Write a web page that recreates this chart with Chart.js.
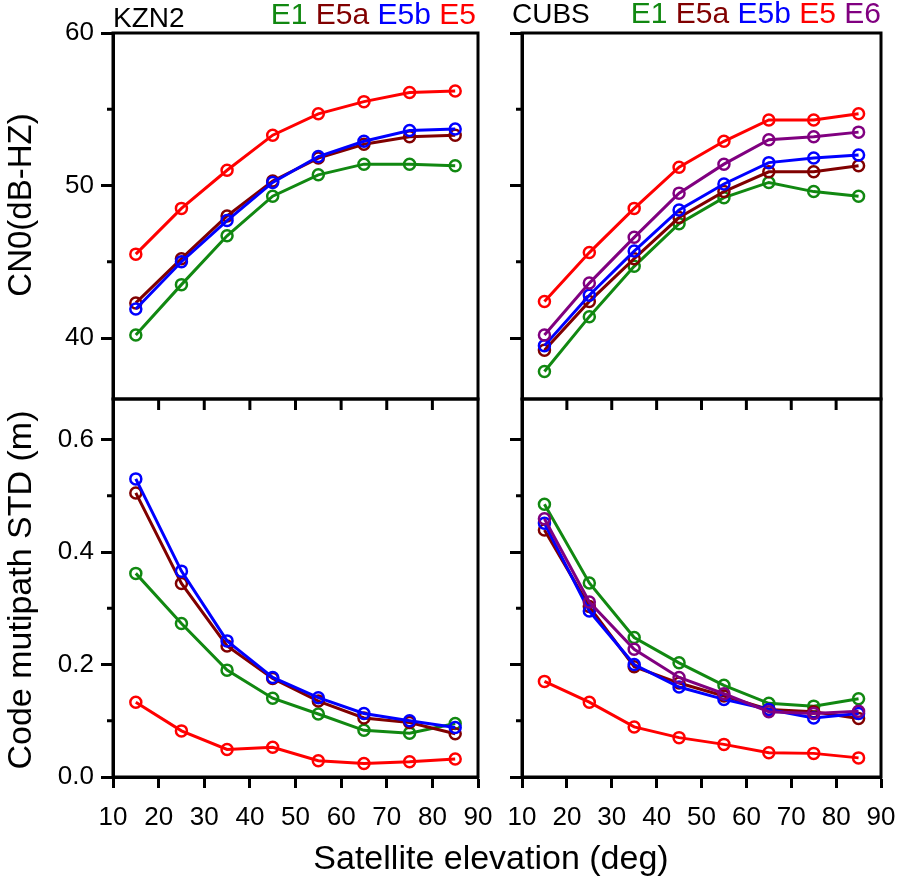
<!DOCTYPE html>
<html>
<head>
<meta charset="utf-8">
<script src="https://cdn.jsdelivr.net/npm/chart.js@4.4.1/dist/chart.umd.min.js"></script>
<style>
  body { margin: 0; background: #fff; }
  #wrap { position: relative; width: 898px; height: 879px; overflow: hidden;
          font-family: 'Liberation Sans', Arial, sans-serif; color: #000; }
  canvas { position: absolute; }
  .lbl { position: absolute; white-space: nowrap; line-height: 1; }
  .rot { transform: translate(-50%, -50%) rotate(-90deg); }
</style>
</head>
<body>
<div id="wrap">
  <canvas id="kznCno" width="540" height="440" style="left:0;top:0"></canvas>
  <canvas id="cubsCno" width="440" height="440" style="left:480px;top:0"></canvas>
  <canvas id="kznMp" width="540" height="519" style="left:0;top:360px"></canvas>
  <canvas id="cubsMp" width="440" height="519" style="left:480px;top:360px"></canvas>

  <div class="lbl" style="left:113px;top:4px;font-size:28px">KZN2</div>
  <div class="lbl" style="left:0;width:476px;text-align:right;top:-1px;font-size:30px">
    <span style="color:#118811">E1</span> <span style="color:#800000">E5a</span>
    <span style="color:#0000ff">E5b</span> <span style="color:#ff0000">E5</span>
  </div>
  <div class="lbl" style="left:512px;top:0;font-size:28px">CUBS</div>
  <div class="lbl" style="left:480px;width:401px;text-align:right;top:-2px;font-size:30px">
    <span style="color:#118811">E1</span> <span style="color:#800000">E5a</span>
    <span style="color:#0000ff">E5b</span> <span style="color:#ff0000">E5</span>
    <span style="color:#800080">E6</span>
  </div>

  <div class="lbl rot" style="left:19px;top:205px;font-size:33px">CN0(dB-HZ)</div>
  <div class="lbl rot" style="left:19px;top:590px;font-size:34px">Code mutipath STD (m)</div>
  <div class="lbl" style="left:491px;top:857px;transform:translate(-50%,-50%);font-size:34px">Satellite elevation (deg)</div>
</div>

<script>
// 위성 고도각 (deg)
const elevation = [15, 25, 35, 45, 55, 65, 75, 85];

// 눈금
const xTicks = [10, 20, 30, 40, 50, 60, 70, 80, 90];
const cnoTicks = [40, 50, 60];
const cnoMinor = [45, 55];
const mpTicks = [0, 0.2, 0.4, 0.6];
const mpMinor = [0.1, 0.3, 0.5];

// KZN2 CN0 (dB-Hz)
const kznCnoE1 = [40.2, 43.5, 46.7, 49.3, 50.7, 51.4, 51.4, 51.3];
const kznCnoE5a = [42.3, 45.2, 48.0, 50.3, 51.8, 52.7, 53.2, 53.3];
const kznCnoE5b = [41.9, 45.0, 47.7, 50.2, 51.9, 52.9, 53.6, 53.7];
const kznCnoE5 = [45.5, 48.5, 51.0, 53.3, 54.7, 55.5, 56.1, 56.2];

// CUBS CN0 (dB-Hz)
const cubsCnoE1 = [37.8, 41.4, 44.7, 47.5, 49.2, 50.2, 49.6, 49.3];
const cubsCnoE5a = [39.2, 42.4, 45.2, 47.9, 49.6, 50.9, 50.9, 51.3];
const cubsCnoE5b = [39.5, 42.8, 45.7, 48.4, 50.1, 51.5, 51.8, 52.0];
const cubsCnoE5 = [42.4, 45.6, 48.5, 51.2, 52.9, 54.3, 54.3, 54.7];
const cubsCnoE6 = [40.2, 43.6, 46.6, 49.5, 51.4, 53.0, 53.2, 53.5];

// KZN2 코드 멀티패스 STD (m)
const kznMpE1 = [0.362, 0.273, 0.190, 0.140, 0.112, 0.083, 0.078, 0.095];
const kznMpE5a = [0.505, 0.344, 0.233, 0.175, 0.135, 0.105, 0.097, 0.077];
const kznMpE5b = [0.530, 0.366, 0.242, 0.177, 0.141, 0.113, 0.100, 0.088];
const kznMpE5 = [0.133, 0.082, 0.049, 0.053, 0.029, 0.024, 0.027, 0.032];

// CUBS 코드 멀티패스 STD (m)
const cubsMpE1 = [0.485, 0.345, 0.248, 0.203, 0.163, 0.131, 0.126, 0.139];
const cubsMpE5a = [0.439, 0.303, 0.196, 0.167, 0.144, 0.120, 0.116, 0.104];
const cubsMpE5b = [0.451, 0.295, 0.200, 0.160, 0.138, 0.120, 0.105, 0.113];
const cubsMpE5 = [0.170, 0.133, 0.089, 0.070, 0.058, 0.043, 0.042, 0.034];
const cubsMpE6 = [0.459, 0.311, 0.227, 0.177, 0.148, 0.116, 0.113, 0.117];

const colors = { E1: '#118811', E5a: '#800000', E5b: '#0000ff', E5: '#ff0000', E6: '#800080' };
const fontFamily = "'Liberation Sans', Arial, sans-serif";

// 테두리, 보조 눈금, 위쪽 안쪽 눈금
const framePlugin = {
    id: 'frame',
    afterDraw: (chart, args, opts) => {
        const { ctx, chartArea: a, scales } = chart;
        ctx.save();
        ctx.strokeStyle = '#000';
        ctx.lineWidth = 3;
        ctx.lineCap = 'square';
        ctx.strokeRect(a.left, a.top, a.right - a.left, a.bottom - a.top);
        ctx.lineCap = 'butt';
        ctx.beginPath();
        opts.minor.forEach(v => {
            const y = scales.y.getPixelForValue(v);
            ctx.moveTo(a.left - 6, y);
            ctx.lineTo(a.left, y);
        });
        if (opts.mirrorTop) {
            xTicks.slice(1, -1).forEach(v => {
                const x = scales.x.getPixelForValue(v);
                ctx.moveTo(x, a.top);
                ctx.lineTo(x, a.top + 11);
            });
        }
        ctx.stroke();
        ctx.restore();
    }
};

function makePanel(id, series, cfg) {
    const datasets = series.map((s, i) => ({
        label: s.name,
        data: elevation.map((x, j) => ({ x, y: s.values[j] })),
        borderColor: colors[s.name],
        borderWidth: 3,
        pointRadius: 5.5,
        pointBorderWidth: 2.5,
        pointBorderColor: colors[s.name],
        pointBackgroundColor: 'rgba(0,0,0,0)',
        tension: 0,
        order: series.length - i
    }));

    return new Chart(document.getElementById(id).getContext('2d'), {
        type: 'line',
        data: { datasets },
        plugins: [framePlugin],
        options: {
            responsive: false,
            animation: false,
            layout: { padding: cfg.padding },
            plugins: {
                legend: { display: false },
                tooltip: { enabled: false },
                frame: { minor: cfg.minor, mirrorTop: cfg.showX }
            },
            scales: {
                x: {
                    type: 'linear',
                    min: 10,
                    max: 90,
                    display: cfg.showX,
                    afterBuildTicks: s => { s.ticks = xTicks.map(v => ({ value: v })); },
                    afterFit: s => { s.height = cfg.showX ? 102 : 0; },
                    grid: { drawOnChartArea: false, tickLength: 11, tickWidth: 3, color: '#000' },
                    border: { display: true, width: 3, color: '#000' },
                    ticks: { color: '#000', padding: 14, maxRotation: 0, autoSkip: false,
                             font: { family: fontFamily, size: 26 } }
                },
                y: {
                    type: 'linear',
                    min: cfg.min,
                    max: cfg.max,
                    afterBuildTicks: s => { s.ticks = cfg.ticks.map(v => ({ value: v })); },
                    afterFit: s => { s.width = cfg.yWidth; },
                    grid: { drawOnChartArea: false, tickLength: 12, tickWidth: 3, color: '#000' },
                    border: { display: true, width: 3, color: '#000' },
                    ticks: { display: cfg.yLabels, color: '#000', padding: 7,
                             font: { family: fontFamily, size: 26 },
                             callback: cfg.format }
                }
            }
        }
    });
}

const cnoPanel = { min: 36, max: 60, ticks: cnoTicks, minor: cnoMinor, showX: false, format: v => v };
const mpPanel = { min: 0, max: 0.672, ticks: mpTicks, minor: mpMinor, showX: true, format: v => v.toFixed(1) };

makePanel('kznCno', [
    { name: 'E1', values: kznCnoE1 },
    { name: 'E5a', values: kznCnoE5a },
    { name: 'E5b', values: kznCnoE5b },
    { name: 'E5', values: kznCnoE5 }
], { ...cnoPanel, yWidth: 113, yLabels: true, padding: { left: 0, top: 33, right: 62, bottom: 41 } });

makePanel('cubsCno', [
    { name: 'E1', values: cubsCnoE1 },
    { name: 'E5a', values: cubsCnoE5a },
    { name: 'E5b', values: cubsCnoE5b },
    { name: 'E5', values: cubsCnoE5 },
    { name: 'E6', values: cubsCnoE6 }
], { ...cnoPanel, yWidth: 42, yLabels: false, padding: { left: 0, top: 33, right: 39, bottom: 41 } });

makePanel('kznMp', [
    { name: 'E1', values: kznMpE1 },
    { name: 'E5a', values: kznMpE5a },
    { name: 'E5b', values: kznMpE5b },
    { name: 'E5', values: kznMpE5 }
], { ...mpPanel, yWidth: 113, yLabels: true, padding: { left: 0, top: 39, right: 62, bottom: 0 } });

makePanel('cubsMp', [
    { name: 'E1', values: cubsMpE1 },
    { name: 'E5a', values: cubsMpE5a },
    { name: 'E5b', values: cubsMpE5b },
    { name: 'E5', values: cubsMpE5 },
    { name: 'E6', values: cubsMpE6 }
], { ...mpPanel, yWidth: 42, yLabels: false, padding: { left: 0, top: 39, right: 39, bottom: 0 } });
</script>
</body>
</html>
